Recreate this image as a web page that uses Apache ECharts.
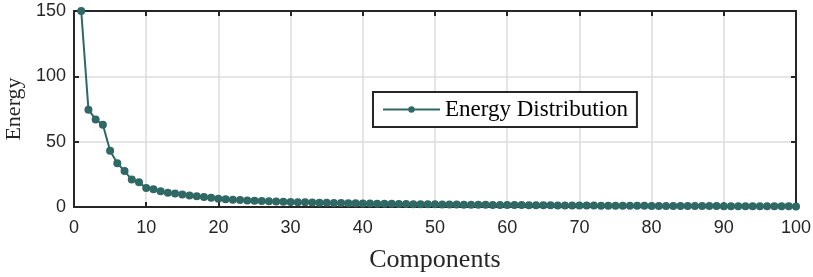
<!DOCTYPE html>
<html><head><meta charset="utf-8">
<script src="https://cdn.jsdelivr.net/npm/echarts@6/dist/echarts.min.js"></script>
<style>html,body{margin:0;padding:0;background:#fff}#c{width:813px;height:277px}</style>
</head><body><div id="c"></div>
<script>
const components = Array.from({length:100},(_,i)=>i+1);
const energy = [150, 74.5, 67, 63, 43, 33.5, 27.5, 21, 19, 14.5, 13.5, 12, 11, 10.3, 9.5, 8.8, 8.3, 7.6, 7, 6.3, 6, 5.6, 5.3,
5.0, 4.8, 4.6, 4.4, 4.2, 4.0, 3.85, 3.7, 3.55, 3.4, 3.3, 3.2,
3.1, 3.0, 2.9, 2.8, 2.7, 2.62, 2.55, 2.48, 2.4, 2.33, 2.26, 2.2, 2.14, 2.08, 2.02,
1.96, 1.9, 1.85, 1.8, 1.75, 1.7, 1.65, 1.6, 1.56, 1.52, 1.48, 1.44, 1.4, 1.36, 1.32,
1.28, 1.24, 1.2, 1.17, 1.14, 1.11, 1.08, 1.05, 1.02, 0.99, 0.96, 0.93, 0.9, 0.88, 0.86,
0.84, 0.82, 0.8, 0.78, 0.76, 0.74, 0.72, 0.7, 0.68, 0.66, 0.64, 0.62, 0.6, 0.58, 0.56, 0.54, 0.52, 0.5, 0.48, 0.46];
const xTicks = [0,10,20,30,40,50,60,70,80,90,100];
const yTicks = [0,50,100,150];
const seriesName = 'Energy Distribution';
const xName = 'Components', yName = 'Energy';

const axisColor = '#262626';
const lineColor = '#2f6864';
const sans = 'Liberation Sans, Arial, Helvetica, sans-serif';
const serif = 'Liberation Serif, Times New Roman, serif';

const chart = echarts.init(document.getElementById('c'), null, {renderer:'canvas'});
const base = {
  axisLine:{show:true, onZero:false, lineStyle:{color:axisColor, width:2}},
  axisTick:{show:true, inside:true, length:5, lineStyle:{color:axisColor, width:2}},
};
chart.setOption({
  animation:false,
  backgroundColor:'#fff',
  grid:{left:74, right:17, top:11, bottom:70, containLabel:false, outerBoundsMode:'none'},
  legend:{
    data:[seriesName], left:373, top:92,
    backgroundColor:'#fff', borderColor:axisColor, borderWidth:2,
    padding:[6,9,6,9], itemWidth:57, itemHeight:8, itemGap:6,
    textStyle:{fontFamily:serif, fontSize:23, color:'#000'}
  },
  xAxis:[
    Object.assign({type:'value', min:0, max:100, interval:10, position:'bottom',
      name:xName, nameLocation:'middle', nameGap:40,
      nameTextStyle:{fontFamily:serif, fontSize:26, color:'#262626'},
      axisLabel:{fontFamily:sans, fontSize:18, color:'#262626', margin:12,
        formatter:v=>xTicks.includes(v)?String(v):''},
      splitLine:{show:true, lineStyle:{color:'#dcdcdc', width:1.5}}}, base),
    Object.assign({type:'value', min:0, max:100, interval:10, position:'top',
      axisLabel:{show:false}, splitLine:{show:false}}, base)
  ],
  yAxis:[
    Object.assign({type:'value', min:0, max:150, interval:50, position:'left',
      name:yName, nameLocation:'middle', nameGap:48, nameRotate:90,
      nameTextStyle:{fontFamily:serif, fontSize:22, color:'#262626'},
      axisLabel:{fontFamily:sans, fontSize:18, color:'#262626', margin:8,
        formatter:v=>yTicks.includes(v)?String(v):''},
      splitLine:{show:true, lineStyle:{color:'#dcdcdc', width:1.5}}}, base),
    Object.assign({type:'value', min:0, max:150, interval:50, position:'right',
      axisLabel:{show:false}, splitLine:{show:false}}, base)
  ],
  series:[{
    name:seriesName, type:'line', xAxisIndex:0, yAxisIndex:0,
    data:components.map((c,i)=>[c, energy[i]]),
    symbol:'circle', symbolSize:8, showSymbol:true,
    lineStyle:{color:lineColor, width:2},
    itemStyle:{color:lineColor},
    clip:false, z:5
  }]
});
</script></body></html>
